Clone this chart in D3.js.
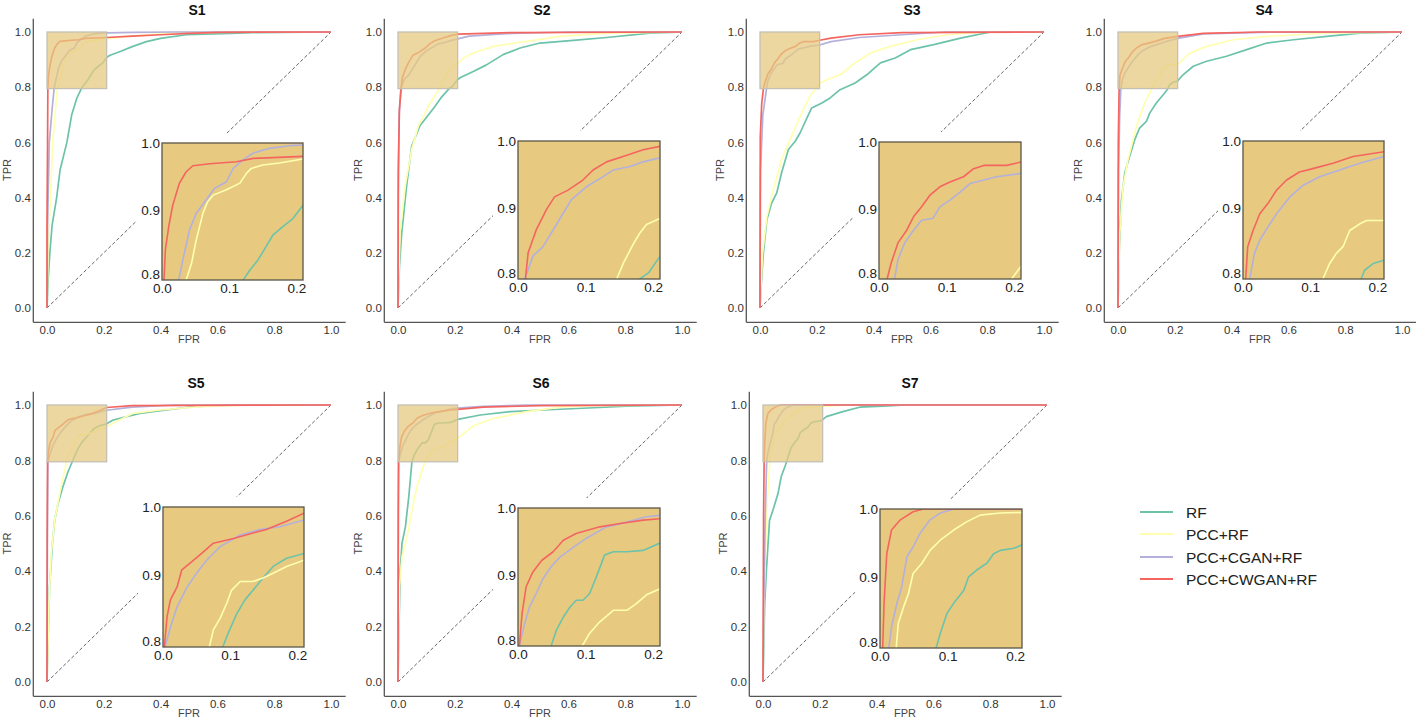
<!DOCTYPE html>
<html><head><meta charset="utf-8">
<script src="https://cdn.jsdelivr.net/npm/d3@7"></script>
<style>body{margin:0;background:#fff;} svg{display:block;font-family:"Liberation Sans",Arial,sans-serif;}</style>
</head><body><svg id="chart" width="1416" height="719"></svg>
<script>
const panelNames = ["S1","S2","S3","S4","S5","S6","S7"];
const seriesNames = ["RF","PCC+RF","PCC+CGAN+RF","PCC+CWGAN+RF"];
const seriesColors = ["#6cc3aa","#ffffb0","#b3b0dc","#f46560"];
const mainTicks = [0,0.2,0.4,0.6,0.8,1.0];
const insetXTicks = [0,0.1,0.2];
const insetYTicks = [0.8,0.9,1.0];
const zoomX = [0,0.21];
const zoomY = [0.795,1.0];

const S1_RF = [[0,0],[0.004,0.1],[0.01,0.2],[0.018,0.3],[0.034,0.4],[0.046,0.5],[0.07,0.6],[0.087,0.7],[0.105,0.76],[0.121,0.795],[0.131,0.81],[0.143,0.825],[0.155,0.845],[0.165,0.862],[0.18,0.875],[0.195,0.887],[0.21,0.907],[0.22,0.915],[0.26,0.93],[0.3,0.947],[0.35,0.965],[0.4,0.977],[0.49,0.99],[0.65,0.995],[0.72,0.998],[1,1]];
const S1_PCC = [[0,0],[0.004,0.2],[0.012,0.4],[0.02,0.6],[0.03,0.72],[0.036,0.795],[0.044,0.82],[0.051,0.855],[0.061,0.895],[0.068,0.912],[0.076,0.922],[0.096,0.93],[0.116,0.94],[0.126,0.955],[0.133,0.962],[0.15,0.967],[0.175,0.97],[0.21,0.976],[0.3,0.985],[0.4,0.993],[0.5,0.999],[1,1]];
const S1_CGAN = [[0,0],[0.002,0.3],[0.008,0.6],[0.018,0.72],[0.025,0.795],[0.031,0.825],[0.041,0.87],[0.051,0.895],[0.066,0.915],[0.078,0.932],[0.096,0.942],[0.106,0.962],[0.121,0.975],[0.136,0.985],[0.16,0.992],[0.19,0.996],[0.21,0.997],[0.3,0.999],[0.45,1],[1,1]];
const S1_CWGAN = [[0,0],[0,0.3],[0.002,0.6],[0.003,0.795],[0.005,0.84],[0.01,0.875],[0.016,0.907],[0.026,0.94],[0.036,0.957],[0.046,0.966],[0.071,0.969],[0.111,0.972],[0.136,0.977],[0.21,0.98],[0.3,0.985],[0.4,0.99],[0.5,0.995],[0.6,0.999],[1,1]];

const S2_RF = [[0,0],[0.005,0.15],[0.013,0.27],[0.03,0.44],[0.048,0.586],[0.077,0.66],[0.1,0.69],[0.13,0.73],[0.154,0.765],[0.18,0.795],[0.193,0.804],[0.208,0.826],[0.22,0.835],[0.265,0.857],[0.31,0.88],[0.37,0.918],[0.43,0.942],[0.5,0.96],[0.617,0.97],[0.735,0.98],[0.887,0.996],[1,1]];
const S2_PCC = [[0,0],[0.007,0.27],[0.025,0.44],[0.048,0.574],[0.072,0.66],[0.107,0.73],[0.13,0.77],[0.146,0.795],[0.156,0.819],[0.17,0.846],[0.18,0.863],[0.19,0.876],[0.21,0.885],[0.23,0.905],[0.265,0.924],[0.336,0.948],[0.453,0.966],[0.57,0.984],[0.746,0.996],[1,1]];
const S2_CGAN = [[0,0],[0.001,0.4],[0.004,0.7],[0.01,0.795],[0.022,0.829],[0.037,0.843],[0.049,0.863],[0.067,0.893],[0.079,0.913],[0.101,0.932],[0.126,0.947],[0.141,0.957],[0.166,0.962],[0.185,0.969],[0.21,0.975],[0.25,0.985],[0.4,0.995],[0.6,1],[1,1]];
const S2_CWGAN = [[0,0],[0.001,0.5],[0.005,0.72],[0.011,0.795],[0.015,0.834],[0.027,0.868],[0.042,0.898],[0.054,0.917],[0.074,0.927],[0.096,0.942],[0.111,0.957],[0.131,0.969],[0.161,0.979],[0.185,0.987],[0.21,0.992],[0.4,0.998],[1,1]];

const S3_RF = [[0,0],[0.004,0.08],[0.012,0.2],[0.024,0.32],[0.041,0.38],[0.059,0.417],[0.076,0.49],[0.1,0.574],[0.124,0.604],[0.141,0.634],[0.165,0.688],[0.182,0.725],[0.218,0.743],[0.247,0.761],[0.282,0.791],[0.335,0.815],[0.376,0.845],[0.424,0.888],[0.476,0.906],[0.53,0.936],[0.612,0.954],[0.706,0.978],[0.812,1],[1,1]];
const S3_PCC = [[0,0],[0.009,0.2],[0.024,0.33],[0.047,0.43],[0.076,0.537],[0.106,0.61],[0.141,0.694],[0.176,0.767],[0.199,0.799],[0.21,0.814],[0.235,0.827],[0.282,0.845],[0.335,0.888],[0.388,0.924],[0.459,0.948],[0.553,0.972],[0.659,0.99],[0.8,1],[1,1]];
const S3_CGAN = [[0,0],[0.002,0.5],[0.01,0.7],[0.023,0.795],[0.028,0.824],[0.038,0.849],[0.051,0.868],[0.063,0.883],[0.08,0.886],[0.09,0.903],[0.105,0.913],[0.12,0.925],[0.135,0.938],[0.155,0.943],[0.174,0.948],[0.21,0.953],[0.25,0.965],[0.35,0.98],[0.5,0.99],[0.65,1],[1,1]];
const S3_CWGAN = [[0,0],[0.001,0.62],[0.006,0.74],[0.012,0.795],[0.018,0.819],[0.028,0.849],[0.041,0.868],[0.051,0.888],[0.063,0.903],[0.075,0.92],[0.09,0.933],[0.105,0.94],[0.125,0.948],[0.14,0.96],[0.155,0.965],[0.189,0.965],[0.21,0.97],[0.25,0.978],[0.35,0.99],[0.5,0.998],[1,1]];

const S4_RF = [[0,0],[0.004,0.2],[0.012,0.39],[0.024,0.49],[0.041,0.55],[0.059,0.61],[0.076,0.652],[0.1,0.676],[0.112,0.707],[0.135,0.743],[0.165,0.78],[0.176,0.795],[0.181,0.808],[0.194,0.818],[0.21,0.823],[0.229,0.845],[0.265,0.876],[0.312,0.894],[0.382,0.912],[0.453,0.936],[0.524,0.96],[0.618,0.972],[0.735,0.984],[0.853,0.996],[1,1]];
const S4_PCC = [[0,0],[0.006,0.27],[0.018,0.44],[0.035,0.537],[0.065,0.658],[0.094,0.743],[0.119,0.795],[0.129,0.818],[0.139,0.833],[0.149,0.843],[0.159,0.867],[0.174,0.877],[0.184,0.882],[0.21,0.882],[0.229,0.9],[0.253,0.924],[0.312,0.948],[0.406,0.972],[0.524,0.984],[0.735,0.996],[1,1]];
const S4_CGAN = [[0,0],[0.002,0.5],[0.006,0.7],[0.01,0.795],[0.017,0.833],[0.025,0.853],[0.037,0.872],[0.05,0.892],[0.07,0.917],[0.089,0.934],[0.114,0.947],[0.144,0.957],[0.174,0.967],[0.21,0.977],[0.3,0.993],[0.5,0.999],[1,1]];
const S4_CWGAN = [[0,0],[0.001,0.6],[0.004,0.795],[0.007,0.843],[0.015,0.867],[0.025,0.892],[0.037,0.907],[0.05,0.927],[0.065,0.942],[0.084,0.954],[0.104,0.959],[0.134,0.967],[0.164,0.977],[0.21,0.984],[0.3,0.995],[0.5,1],[1,1]];

const S5_RF = [[0,0],[0.004,0.163],[0.009,0.343],[0.019,0.5],[0.027,0.584],[0.039,0.645],[0.056,0.705],[0.074,0.759],[0.089,0.795],[0.097,0.815],[0.11,0.844],[0.122,0.864],[0.134,0.878],[0.149,0.896],[0.164,0.913],[0.184,0.925],[0.21,0.932],[0.233,0.946],[0.327,0.97],[0.42,0.982],[0.515,0.994],[0.656,1],[1,1]];
const S5_PCC = [[0,0],[0.007,0.283],[0.015,0.464],[0.027,0.584],[0.045,0.681],[0.062,0.765],[0.069,0.795],[0.075,0.82],[0.085,0.837],[0.095,0.859],[0.102,0.878],[0.115,0.891],[0.134,0.891],[0.149,0.896],[0.164,0.903],[0.184,0.913],[0.21,0.922],[0.233,0.934],[0.303,0.97],[0.397,0.982],[0.538,0.994],[0.714,1],[1,1]];
const S5_CGAN = [[0,0],[0.001,0.5],[0.003,0.795],[0.011,0.824],[0.021,0.854],[0.036,0.883],[0.05,0.903],[0.065,0.922],[0.085,0.942],[0.115,0.959],[0.144,0.967],[0.174,0.971],[0.21,0.981],[0.3,0.992],[0.45,1],[1,1]];
const S5_CWGAN = [[0,0],[0.001,0.6],[0.002,0.795],[0.006,0.839],[0.011,0.864],[0.021,0.883],[0.028,0.908],[0.043,0.92],[0.055,0.93],[0.075,0.947],[0.105,0.954],[0.134,0.962],[0.154,0.967],[0.184,0.979],[0.21,0.991],[0.3,0.998],[1,1]];

const S6_RF = [[0,0],[0.004,0.223],[0.008,0.404],[0.014,0.5],[0.026,0.56],[0.038,0.669],[0.045,0.75],[0.049,0.795],[0.057,0.819],[0.067,0.838],[0.077,0.853],[0.086,0.863],[0.096,0.863],[0.106,0.873],[0.116,0.898],[0.128,0.93],[0.141,0.935],[0.161,0.935],[0.185,0.937],[0.21,0.948],[0.29,0.964],[0.396,0.976],[0.513,0.982],[0.689,0.99],[0.806,0.996],[1,1]];
const S6_PCC = [[0,0],[0.005,0.343],[0.014,0.452],[0.032,0.524],[0.049,0.62],[0.067,0.705],[0.085,0.765],[0.095,0.795],[0.106,0.814],[0.121,0.831],[0.141,0.848],[0.161,0.848],[0.175,0.858],[0.19,0.871],[0.21,0.88],[0.24,0.905],[0.266,0.925],[0.337,0.952],[0.454,0.976],[0.571,0.992],[0.689,0.998],[1,1]];
const S6_CGAN = [[0,0],[0.001,0.6],[0.002,0.795],[0.01,0.829],[0.017,0.853],[0.027,0.873],[0.037,0.895],[0.049,0.913],[0.062,0.927],[0.082,0.942],[0.101,0.955],[0.131,0.972],[0.161,0.979],[0.19,0.987],[0.21,0.989],[0.3,0.995],[0.45,1],[1,1]];
const S6_CWGAN = [[0,0],[0.001,0.6],[0.002,0.795],[0.006,0.843],[0.012,0.883],[0.022,0.905],[0.035,0.922],[0.052,0.935],[0.067,0.952],[0.086,0.962],[0.121,0.972],[0.151,0.977],[0.185,0.982],[0.21,0.984],[0.3,0.992],[0.5,0.998],[1,1]];

const S7_RF = [[0,0],[0.006,0.283],[0.012,0.404],[0.023,0.584],[0.035,0.62],[0.053,0.681],[0.064,0.741],[0.078,0.78],[0.083,0.795],[0.089,0.816],[0.099,0.846],[0.109,0.861],[0.124,0.88],[0.131,0.9],[0.143,0.91],[0.158,0.92],[0.168,0.934],[0.178,0.939],[0.198,0.942],[0.21,0.947],[0.223,0.958],[0.281,0.976],[0.34,0.992],[0.422,0.996],[0.504,1],[1,1]];
const S7_PCC = [[0,0],[0.004,0.3],[0.012,0.6],[0.024,0.795],[0.027,0.831],[0.035,0.856],[0.042,0.875],[0.049,0.905],[0.062,0.92],[0.074,0.939],[0.089,0.954],[0.109,0.969],[0.128,0.981],[0.148,0.991],[0.178,0.994],[0.21,0.995],[0.3,1],[1,1]];
const S7_CGAN = [[0,0],[0.003,0.3],[0.008,0.6],[0.013,0.795],[0.017,0.826],[0.025,0.861],[0.032,0.885],[0.04,0.93],[0.049,0.944],[0.059,0.964],[0.074,0.984],[0.089,0.994],[0.109,1],[1,1]];
const S7_CWGAN = [[0,0],[0.002,0.6],[0.004,0.795],[0.006,0.861],[0.01,0.934],[0.017,0.969],[0.03,0.984],[0.049,0.996],[0.064,1],[1,1]];

const panelData = {
  S1:[S1_RF,S1_PCC,S1_CGAN,S1_CWGAN],
  S2:[S2_RF,S2_PCC,S2_CGAN,S2_CWGAN],
  S3:[S3_RF,S3_PCC,S3_CGAN,S3_CWGAN],
  S4:[S4_RF,S4_PCC,S4_CGAN,S4_CWGAN],
  S5:[S5_RF,S5_PCC,S5_CGAN,S5_CWGAN],
  S6:[S6_RF,S6_PCC,S6_CGAN,S6_CWGAN],
  S7:[S7_RF,S7_PCC,S7_CGAN,S7_CWGAN]
};

// layout (pixels)
const rows = [{yt:32, yb:308, titleY:15}, {yt:405, yb:682, titleY:388}];
const layout = [
  {x0:47,  row:0, inset:[162,143,141,137], tx:197},
  {x0:398, row:0, inset:[518,141,142,138], tx:542},
  {x0:760, row:0, inset:[879,142,142,137], tx:912},
  {x0:1118,row:0, inset:[1243,141,141,138], tx:1264},
  {x0:47,  row:1, inset:[163,507,141,140], tx:196},
  {x0:398, row:1, inset:[518,508,142,138], tx:541},
  {x0:763, row:1, inset:[880,509,142,139], tx:910}
];
const unitW = 284;
const tan = "#e7ca80";

const svg = d3.select("#chart");
const defs = svg.append("defs");

layout.forEach((L, i) => {
  const name = panelNames[i];
  const data = panelData[name];
  const R = rows[L.row];
  const unitH = R.yb - R.yt;
  const x = d3.scaleLinear().domain([-0.05, 1.05]).range([L.x0 - 0.05*unitW, L.x0 + 1.05*unitW]);
  const y = d3.scaleLinear().domain([-0.05, 1.05]).range([R.yb + 0.05*unitH, R.yt - 0.05*unitH]);
  const g = svg.append("g");

  // axes (left + bottom spines only)
  const gx = g.append("g").attr("transform", `translate(0,${y(-0.05)})`)
    .call(d3.axisBottom(x).tickValues(mainTicks).tickFormat(d3.format(".1f")).tickSize(0).tickPadding(4));
  const gy = g.append("g").attr("transform", `translate(${x(-0.05)},0)`)
    .call(d3.axisLeft(y).tickValues(mainTicks).tickFormat(d3.format(".1f")).tickSize(0).tickPadding(2));
  [gx, gy].forEach(a => {
    a.select(".domain").attr("stroke", "#555").attr("stroke-width", 1.3);
    a.selectAll("text").attr("font-size", 11.5).attr("fill", "#333").attr("font-family", "Liberation Sans, Arial, sans-serif");
  });

  // labels
  g.append("text").attr("x", (x(0)+x(1))/2).attr("y", y(-0.05) + 21.5).attr("text-anchor","middle")
    .attr("font-size", 11).attr("fill", "#444").text("FPR");
  g.append("text").attr("transform", `translate(${x(-0.05)-22},${(y(0)+y(1))/2}) rotate(-90)`).attr("text-anchor","middle")
    .attr("font-size", 11).attr("fill", "#444").text("TPR");
  g.append("text").attr("x", L.tx).attr("y", R.titleY).attr("text-anchor","middle")
    .attr("font-size", 14).attr("font-weight", "bold").attr("fill", "#111").text(name);

  // diagonal
  g.append("line").attr("x1", x(0)).attr("y1", y(0)).attr("x2", x(1)).attr("y2", y(1))
    .attr("stroke", "#666").attr("stroke-width", 1).attr("stroke-dasharray", "3.5,2.2");

  // curves
  const line = d3.line().x(d => x(d[0])).y(d => y(d[1]));
  data.forEach((s, k) => {
    g.append("path").attr("d", line(s)).attr("fill", "none")
      .attr("stroke", seriesColors[k]).attr("stroke-width", 1.7).attr("stroke-linejoin","round");
  });

  // zoom indicator rectangle
  g.append("rect").attr("x", x(zoomX[0])).attr("y", y(zoomY[1]))
    .attr("width", x(zoomX[1]) - x(zoomX[0])).attr("height", y(zoomY[0]) - y(zoomY[1]))
    .attr("fill", tan).attr("fill-opacity", 0.75).attr("stroke", "#c4c0b4").attr("stroke-width", 1.3);

  // inset
  const [il, it, iw, ih] = L.inset;
  g.append("rect").attr("x", il - 25).attr("y", it - 10).attr("width", iw + 28).attr("height", ih + 32).attr("fill", "#fff");
  g.append("rect").attr("x", il).attr("y", it).attr("width", iw).attr("height", ih).attr("fill", tan);
  const xi = d3.scaleLinear().domain(zoomX).range([il, il + iw]);
  const yi = d3.scaleLinear().domain(zoomY).range([it + ih, it]);
  const cid = "clip" + i;
  defs.append("clipPath").attr("id", cid).append("rect").attr("x", il).attr("y", it).attr("width", iw).attr("height", ih);
  const lineI = d3.line().x(d => xi(d[0])).y(d => yi(d[1]));
  const gi = g.append("g").attr("clip-path", `url(#${cid})`);
  data.forEach((s, k) => {
    gi.append("path").attr("d", lineI(s)).attr("fill", "none")
      .attr("stroke", seriesColors[k]).attr("stroke-width", 1.6).attr("stroke-linejoin","round");
  });
  g.append("rect").attr("x", il).attr("y", it).attr("width", iw).attr("height", ih)
    .attr("fill", "none").attr("stroke", "#5a5548").attr("stroke-width", 1.3);
  const gix = g.append("g").attr("transform", `translate(0,${it + ih})`)
    .call(d3.axisBottom(xi).tickValues(insetXTicks).tickFormat(d3.format(".1f")).tickSize(0).tickPadding(3));
  const giy = g.append("g").attr("transform", `translate(${il},0)`)
    .call(d3.axisLeft(yi).tickValues(insetYTicks).tickFormat(d3.format(".1f")).tickSize(0).tickPadding(2));
  [gix, giy].forEach(a => {
    a.select(".domain").remove();
    a.selectAll("text").attr("font-size", 13.5).attr("fill", "#222").attr("font-family", "Liberation Sans, Arial, sans-serif");
  });
  giy.selectAll(".tick text").filter(d => d === 0.8).attr("dy", "0.15em");
});

// legend
const legendY = [512, 534, 557, 579];
const lg = svg.append("g");
seriesNames.forEach((n, k) => {
  lg.append("line").attr("x1", 1140).attr("x2", 1173).attr("y1", legendY[k]).attr("y2", legendY[k])
    .attr("stroke", seriesColors[k]).attr("stroke-width", 2);
  lg.append("text").attr("x", 1186).attr("y", legendY[k]).attr("dy", "0.36em")
    .attr("font-size", 15.5).attr("fill", "#222").text(n);
});
</script></body></html>
